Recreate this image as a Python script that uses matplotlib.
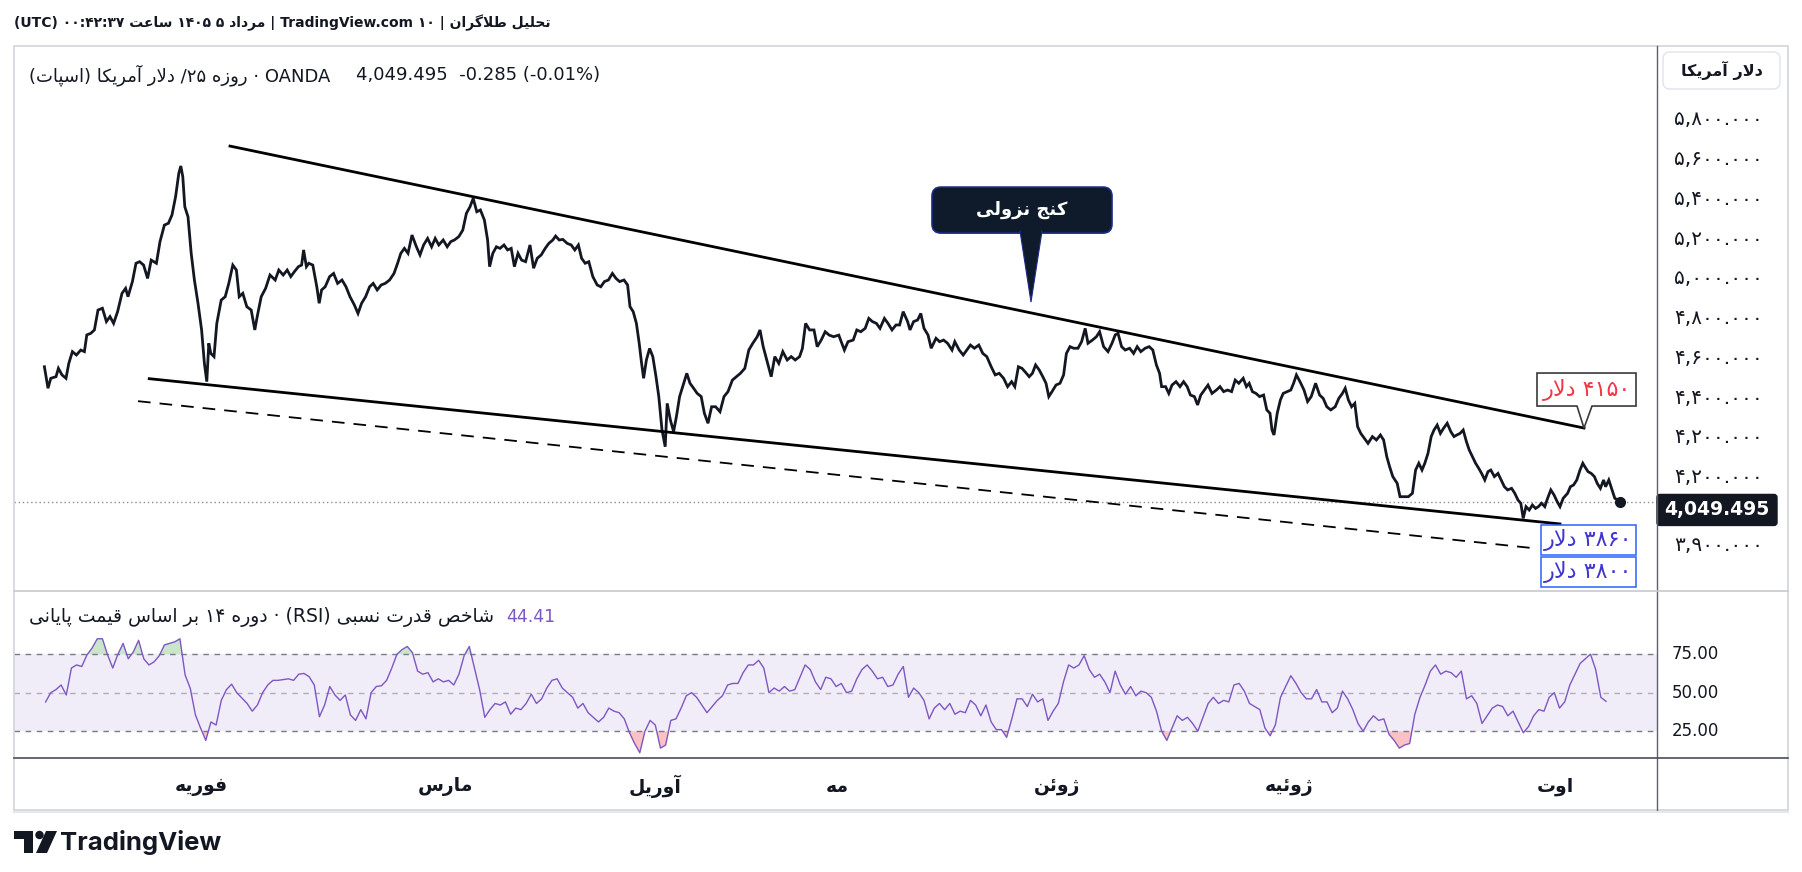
import re
import numpy as np
import matplotlib
matplotlib.use('Agg')
import matplotlib.pyplot as plt
from matplotlib.patches import FancyBboxPatch, Polygon, Rectangle, Circle
import matplotlib.transforms as mtrans

# ---------------- data ----------------
price_bar = [0.1, 1.0, 1.7, 3.0, 3.6, 4.5, 5.5, 6.2, 7.1, 8.1, 9.2, 10.1, 10.7, 11.7, 12.6, 13.5, 14.6, 15.6, 16.5, 17.4,
             18.4, 19.5, 20.4, 21.0, 22.1, 23.0, 23.9, 24.9, 25.9, 26.8, 28.1, 29.0, 30.1, 31.1, 32.0, 32.9, 33.7, 34.2, 34.7, 35.2,
             36.0, 36.8, 37.6, 38.5, 39.4, 40.1, 40.7, 41.2, 41.7, 42.5, 43.2, 44.3, 45.3, 46.2, 47.2, 48.1, 48.8, 49.7, 50.7, 51.8,
             52.7, 53.3, 54.3, 55.4, 56.5, 57.8, 58.7, 59.8, 60.8, 61.7, 62.6, 63.6, 64.4, 64.9, 65.6, 66.2, 67.2, 68.2, 68.8, 69.4,
             70.3, 71.4, 72.4, 73.4, 74.5, 75.5, 76.5, 77.6, 78.5, 79.4, 80.4, 81.4, 82.3, 83.3, 84.3, 85.3, 86.4, 87.5, 88.4, 89.2,
             90.1, 91.0, 92.0, 93.1, 94.0, 94.9, 95.9, 96.9, 97.8, 98.7, 99.8, 100.8, 101.7, 102.6, 103.7, 104.7, 105.6, 106.5, 107.3, 108.2,
             109.1, 110.1, 110.9, 111.4, 112.2, 113.1, 114.0, 115.0, 115.9, 116.8, 117.6, 118.5, 119.4, 120.4, 121.5, 122.4, 123.3, 124.3, 125.3, 126.2,
             127.2, 127.9, 128.8, 129.7, 130.8, 131.8, 132.7, 133.6, 134.4, 135.3, 136.2, 137.2, 138.3, 139.2, 140.1, 141.1, 142.1, 143.0, 143.9, 145.0,
             145.9, 146.5, 147.3, 148.1, 148.8, 149.4, 149.9, 150.6, 151.4, 152.2, 153.0, 153.7, 154.5, 155.3, 155.8, 156.6, 157.4, 158.1, 158.9, 159.8,
             160.7, 161.5, 162.4, 163.3, 164.3, 165.1, 166.0, 166.9, 167.9, 169.0, 170.0, 171.0, 172.1, 173.1, 174.1, 175.2, 176.2, 177.2, 178.3, 179.0,
             179.8, 180.9, 181.8, 182.7, 183.7, 184.7, 185.8, 186.8, 187.8, 188.9, 189.6, 190.4, 191.4, 192.5, 193.3, 194.3, 195.3, 196.3, 197.4, 198.7,
             199.3, 200.1, 201.0, 202.3, 203.2, 204.2, 205.3, 206.2, 207.1, 208.1, 209.0, 210.1, 211.0, 212.0, 213.0, 213.9, 214.8, 215.9, 216.5, 217.4,
             218.4, 219.2, 220.0, 221.0, 221.8, 223.0, 223.9, 224.9, 225.9, 227.0, 227.7, 228.8, 229.8, 230.7, 231.6, 232.6, 233.7, 234.7, 235.7, 236.8,
             237.8, 238.8, 239.9, 240.9, 241.9, 242.7, 243.6, 244.5, 245.6, 246.3, 247.1, 247.9, 248.8, 249.7, 250.5, 251.2, 252.0, 253.0, 254.0, 254.9,
             255.6, 256.5, 257.4, 258.5, 259.4, 260.3, 261.0, 262.1, 263.1, 263.9, 264.9, 266.0, 267.0, 267.8, 268.5, 269.4, 270.3, 271.4, 272.4, 273.3,
             274.2, 275.3, 276.3, 277.2, 278.1, 278.9, 279.4, 280.4, 281.2, 282.0, 283.0, 284.0, 284.9, 285.8, 286.6, 287.6, 288.4, 289.2, 290.1, 291.0,
             292.0, 293.1, 294.0, 294.9, 295.9, 296.9, 297.8, 298.7, 299.8, 300.6, 301.3, 302.1, 303.0, 303.9, 304.9, 305.7, 306.5, 307.0, 307.5, 308.3,
             309.1, 309.8, 310.8, 311.7, 312.4, 313.1, 314.0, 315.0, 315.9, 316.8, 317.9, 318.9, 319.8, 320.7, 321.7, 322.8, 323.7, 324.6, 325.3, 326.1,
             326.9, 327.7, 328.4, 329.2, 330.1, 331.0, 332.1, 333.1, 334.1, 334.9, 335.7, 336.4, 337.2, 338.3, 339.0, 340.1, 341.1, 342.1, 342.9, 343.7,
             344.5, 345.2, 346.0, 346.8, 347.5, 348.3, 349.1, 349.9, 350.8, 351.7, 352.5, 353.2, 354.0, 354.8, 355.6, 356.3, 357.1, 357.9, 358.7, 359.4,
             360.2, 361.0, 361.7, 362.6, 363.5, 364.3, 365.1, 365.9, 366.9, 367.7, 368.5, 369.2, 369.8, 370.5, 371.3, 372.1, 372.9, 373.6, 374.4, 375.2,
             375.9, 376.7, 377.5, 378.3, 379.0, 379.8, 380.9, 381.6, 382.4, 383.2, 384.0, 384.7, 385.2, 386.0, 386.8, 387.6, 388.3, 389.1, 389.9, 390.4,
             391.2, 392.0, 392.7, 393.5, 394.0]
price_close = [4558, 4450, 4500, 4508, 4550, 4517, 4500, 4575, 4634, 4617, 4642, 4634, 4718, 4726, 4743, 4843, 4852, 4785, 4810, 4776,
               4835, 4927, 4952, 4910, 4986, 5078, 5086, 5069, 5002, 5094, 5078, 5187, 5270, 5279, 5321, 5413, 5530, 5567, 5513, 5362,
               5312, 5128, 4994, 4877, 4743, 4575, 4483, 4676, 4625, 4609, 4776, 4893, 4910, 4977, 5069, 5044, 4910, 4927, 4860, 4843,
               4743, 4810, 4910, 4952, 5019, 4994, 5044, 5019, 5044, 5011, 5036, 5061, 5069, 5145, 5061, 5078, 5069, 4960, 4877, 4944,
               4960, 5011, 5027, 4977, 4994, 4960, 4910, 4868, 4826, 4877, 4910, 4960, 4977, 4944, 4969, 4977, 4994, 5027, 5078, 5128,
               5153, 5128, 5220, 5161, 5120, 5170, 5203, 5161, 5203, 5170, 5195, 5161, 5187, 5195, 5212, 5245, 5329, 5362, 5404, 5337,
               5346, 5295, 5195, 5061, 5128, 5161, 5153, 5170, 5145, 5153, 5061, 5128, 5094, 5086, 5170, 5053, 5103, 5120, 5153, 5178,
               5195, 5215, 5195, 5198, 5178, 5170, 5145, 5170, 5103, 5078, 5086, 5011, 4969, 4960, 4986, 4994, 5027, 5002, 4986, 4994,
               4969, 4860, 4835, 4776, 4676, 4575, 4500, 4592, 4650, 4609, 4508, 4408, 4240, 4156, 4374, 4290, 4232, 4307, 4408, 4466,
               4525, 4475, 4450, 4424, 4408, 4324, 4274, 4357, 4357, 4332, 4408, 4433, 4491, 4508, 4525, 4550, 4642, 4676, 4709, 4743,
               4659, 4575, 4508, 4609, 4575, 4634, 4592, 4609, 4592, 4609, 4650, 4776, 4743, 4743, 4659, 4692, 4734, 4717, 4709, 4717,
               4684, 4642, 4684, 4692, 4743, 4734, 4751, 4801, 4785, 4776, 4751, 4801, 4776, 4743, 4768, 4768, 4835, 4785, 4743, 4785,
               4793, 4826, 4751, 4718, 4651, 4701, 4684, 4692, 4676, 4642, 4684, 4642, 4617, 4642, 4667, 4651, 4667, 4625, 4609, 4558,
               4517, 4525, 4500, 4458, 4483, 4458, 4558, 4550, 4525, 4508, 4525, 4567, 4542, 4508, 4475, 4408, 4433, 4466, 4475, 4517,
               4625, 4659, 4651, 4651, 4684, 4751, 4676, 4692, 4709, 4734, 4659, 4634, 4676, 4718, 4726, 4659, 4642, 4651, 4625, 4659,
               4634, 4651, 4659, 4642, 4567, 4525, 4458, 4458, 4424, 4466, 4483, 4458, 4483, 4458, 4416, 4408, 4366, 4416, 4441, 4466,
               4424, 4441, 4458, 4433, 4441, 4433, 4491, 4475, 4500, 4458, 4475, 4433, 4424, 4408, 4416, 4341, 4324, 4240, 4215, 4324,
               4391, 4424, 4433, 4441, 4475, 4517, 4483, 4441, 4383, 4408, 4475, 4416, 4399, 4357, 4341, 4357, 4399, 4424, 4450, 4391,
               4357, 4374, 4257, 4223, 4198, 4173, 4207, 4190, 4215, 4190, 4106, 4056, 4006, 3972, 3905, 3905, 3905, 3922, 4039, 4073,
               4039, 4073, 4123, 4207, 4240, 4265, 4223, 4249, 4274, 4232, 4207, 4215, 4223, 4240, 4182, 4140, 4106, 4073, 4047, 4022,
               3989, 4031, 4039, 4006, 4022, 3989, 3955, 3939, 3947, 3922, 3888, 3872, 3796, 3855, 3838, 3863, 3846, 3855, 3872, 3855,
               3897, 3939, 3914, 3880, 3855, 3897, 3922, 3955, 3964, 3989, 4039, 4073, 4056, 4031, 4022, 4006, 3972, 3947, 3989, 3955,
               3989, 3939, 3897, 3888, 3876]

rsi_values = [44, 50, 52, 55, 48.5, 66, 68, 67, 74.5, 79, 85, 85, 74.5, 66, 75, 82, 72, 76.6, 84, 72,
              68, 70, 74, 81, 82, 83, 85, 61.5, 52.8, 35.5, 27, 19, 31, 29, 45, 52, 55.5, 50, 46.5, 43,
              38, 42, 50, 55, 58, 58, 58.5, 59, 58, 62, 62.5, 60.4, 55, 34.4, 42, 54, 48.5, 45, 48.5, 35.5,
              32, 39, 33, 50, 54, 54.5, 58, 66, 75, 78, 80, 76, 64, 62, 63, 57, 59, 57, 58, 55,
              62, 74, 80, 66, 52, 34, 39, 43, 42, 44, 36, 40, 39, 43, 49, 43, 46, 53, 58, 59,
              53, 50, 47, 40, 43, 37, 34, 31, 34, 40, 38, 37, 33, 24, 17, 11, 25, 32, 29, 14,
              16, 32, 33, 40, 48, 50, 47, 42, 37, 41, 45, 48, 55, 56, 56, 63, 68, 68, 71, 66,
              50, 53, 51, 54, 51, 52, 60, 68, 65, 57, 52, 60, 59, 54, 56, 50, 51, 59, 65, 68,
              64, 59, 60, 54, 55, 62, 67, 47, 53, 50, 45, 33, 40, 43, 39, 43, 36, 38, 37, 45,
              42, 35, 42, 31, 26, 26, 21, 33, 46, 46, 41, 49, 44, 46, 32, 38, 43, 57, 68, 66,
              68, 74, 65, 60, 62, 57, 50, 64, 55, 49, 54, 48, 51, 50, 47, 38, 25, 19, 27, 35,
              32, 34, 30, 25, 34, 43, 47, 43, 45, 44, 55, 56, 51, 43, 41, 39, 27, 22, 29, 47,
              54, 61, 56, 50, 46, 46, 52, 44, 44, 37, 40, 51, 46, 39, 30, 25, 31, 35, 32, 33,
              23, 19, 14, 16, 17, 36, 47, 55, 64, 68, 62, 64, 63, 60, 64, 46, 48, 43, 30, 35,
              40, 42, 41, 35, 38, 31, 24, 28, 35, 39, 38, 47, 50, 40, 44, 55, 62, 69, 72, 75,
              65, 47, 44.41]
rsi_first_bar, rsi_last_bar = 0.4, 390.5

month_pos = [39.25, 100.25, 152.75, 198.25, 253.25, 311.25, 377.75]
month_names = ['فوریه', 'مارس', 'آوریل', 'مه', 'ژوئن', 'ژوئیه', 'اوت']

ytick_pos = [5800, 5600, 5400, 5200, 5000, 4800, 4600, 4400, 4200, 4000, 3660]
ytick_labels = ['۵,۸۰۰.۰۰۰', '۵,۶۰۰.۰۰۰', '۵,۴۰۰.۰۰۰', '۵,۲۰۰.۰۰۰', '۵,۰۰۰.۰۰۰', '۴,۸۰۰.۰۰۰',
                '۴,۶۰۰.۰۰۰', '۴,۴۰۰.۰۰۰', '۴,۲۰۰.۰۰۰', '۴,۲۰۰.۰۰۰', '۳,۹۰۰.۰۰۰']
rsi_ticks = [75, 50, 25]
rsi_tick_labels = ['75.00', '50.00', '25.00']

wedge_upper_bar = [46.5, 385.0]
wedge_upper_val = [5667, 4250]
wedge_lower_bar = [26.3, 379.0]
wedge_lower_val = [4498, 3768]
support_bar = [23.5, 371.5]
support_val = [4385, 3648]
wedge_label_anchor = (246.75, 4883)

header_text = 'تحلیل طلاگران | ۱۰ TradingView.com | مرداد ۵ ۱۴۰۵ ساعت ۰۰:۴۲:۳۷ (UTC)'
title_text = 'OANDA · روزه ۲۵/ دلار آمریکا (اسپات)'
title_values = '4,049.495  -0.285 (-0.01%)'
last_price_label = '4,049.495'
rsi_title_text = 'شاخص قدرت نسبی (RSI) · دوره ۱۴ بر اساس قیمت پایانی'
rsi_last_label = '44.41'
axis_unit_text = 'دلار آمریکا'
wedge_text = 'کنج نزولی'
target_text = '۴۱۵۰ دلار'
support1_text = '۳۸۶۰ دلار'
support2_text = '۳۸۰۰ دلار'

# ---------------- Persian shaping (no external libs) ----------------
def _dual(b):
    return (b, b + 1, b + 2, b + 3)

def _right(b):
    return (b, b + 1, None, None)

FORMS = {
    '\u0627': _right(0xFE8D), '\u0622': _right(0xFE81), '\u0628': _dual(0xFE8F), '\u067E': _dual(0xFB56),
    '\u062A': _dual(0xFE95), '\u062B': _dual(0xFE99), '\u062C': _dual(0xFE9D), '\u0686': _dual(0xFB7A),
    '\u062D': _dual(0xFEA1), '\u062E': _dual(0xFEA5), '\u062F': _right(0xFEA9), '\u0630': _right(0xFEAB),
    '\u0631': _right(0xFEAD), '\u0632': _right(0xFEAF), '\u0698': _right(0xFB8A), '\u0633': _dual(0xFEB1),
    '\u0634': _dual(0xFEB5), '\u0635': _dual(0xFEB9), '\u0636': _dual(0xFEBD), '\u0637': _dual(0xFEC1),
    '\u0638': _dual(0xFEC5), '\u0639': _dual(0xFEC9), '\u063A': _dual(0xFECD), '\u0641': _dual(0xFED1),
    '\u0642': _dual(0xFED5), '\u06A9': _dual(0xFB8E), '\u0643': _dual(0xFED9), '\u06AF': _dual(0xFB92),
    '\u0644': _dual(0xFEDD), '\u0645': _dual(0xFEE1), '\u0646': _dual(0xFEE5), '\u0648': _right(0xFEED),
    '\u0647': _dual(0xFEE9), '\u06CC': _dual(0xFBFC), '\u064A': _dual(0xFEF1), '\u0626': _dual(0xFE89),
}

def _shape(s):
    out = []
    i, n = 0, len(s)
    joins_next = lambda c: c in FORMS and FORMS[c][2] is not None
    while i < n:
        c = s[i]
        if c not in FORMS:
            out.append(c)
            i += 1
            continue
        prev = i > 0 and joins_next(s[i - 1])
        if c == '\u0644' and i + 1 < n and s[i + 1] in ('\u0627', '\u0622'):
            iso, fin = (0xFEFB, 0xFEFC) if s[i + 1] == '\u0627' else (0xFEF5, 0xFEF6)
            out.append(chr(fin if prev else iso))
            i += 2
            continue
        nxt = joins_next(c) and i + 1 < n and s[i + 1] in FORMS
        f = FORMS[c]
        g = f[3] if (prev and nxt) else f[1] if prev else f[2] if nxt else f[0]
        out.append(chr(g))
        i += 1
    return ''.join(out)

_LTR = re.compile(r'[0-9A-Za-z\u06F0-\u06F9](?:[0-9A-Za-z\u06F0-\u06F9.,:%]*[0-9A-Za-z\u06F0-\u06F9])?')

def fa(s):
    r = _shape(s)[::-1]
    r = _LTR.sub(lambda m: m.group(0)[::-1], r)
    return r.translate(str.maketrans('()', ')('))

# ---------------- figure ----------------
plt.rcParams['font.family'] = ['DejaVu Sans']
W, H = 1802, 872
fig = plt.figure(figsize=(W / 100, H / 100), dpi=100)
fig.patch.set_facecolor('white')

def fx(x):
    return x / W

def fy(y):
    return 1 - y / H

INK = '#131722'
ax = fig.add_axes([fx(14), fy(591), fx(1657) - fx(14), fy(46) - fy(591)])
rax = fig.add_axes([fx(14), fy(758), fx(1657) - fx(14), fy(591) - fy(758)])
ov = fig.add_axes([0, 0, 1, 1], zorder=10)
ov.set_xlim(0, W)
ov.set_ylim(H, 0)
ov.axis('off')
ov.patch.set_alpha(0)

XL = (-7.5, 403.25)
for a in (ax, rax):
    a.set_xlim(*XL)
    for sp in a.spines.values():
        sp.set_visible(False)
    a.set_facecolor('none')
ax.set_ylim(3431, 6170)
rax.set_ylim(7.6, 116)

# price + drawings
ax.plot(price_bar, price_close, color=INK, lw=2.0, zorder=3, solid_joinstyle='miter')
ax.plot(price_bar[-1], price_close[-1], 'o', ms=7, color=INK, zorder=4)
ax.axhline(price_close[-1], color='#8a8d96', lw=1, ls=(0, (1, 2)), zorder=1)
ax.plot(wedge_upper_bar, wedge_upper_val, color='black', lw=2.0, zorder=4)
ax.plot(wedge_lower_bar, wedge_lower_val, color='black', lw=2.0, zorder=4)
ax.plot(support_bar, support_val, color='black', lw=1.3, ls=(0, (7, 5)), zorder=4)
ax.set_xticks([])
ax.set_yticks([])

# RSI
rsi_bar = np.linspace(rsi_first_bar, rsi_last_bar, len(rsi_values))
rv = np.array(rsi_values, dtype=float)
rax.axhspan(25, 75, color='#7e57c2', alpha=0.11, lw=0)
for lvl, al in ((75, 1.0), (50, 0.55), (25, 1.0)):
    rax.axhline(lvl, color='#787b86', lw=1, ls=(0, (4, 4)), alpha=al)
rax.fill_between(rsi_bar, rv, 75, where=rv > 75, interpolate=True, color='#4caf50', alpha=0.3, lw=0)
rax.fill_between(rsi_bar, rv, 25, where=rv < 25, interpolate=True, color='#f23645', alpha=0.3, lw=0)
rax.plot(rsi_bar, rv, color='#7e57c2', lw=1.0)
rax.set_xticks([])
rax.set_yticks([])

# axis labels (right scale and time scale)
bt_main = mtrans.blended_transform_factory(ov.transData, ax.transData)
for p, lab in zip(ytick_pos, ytick_labels):
    ax.text(1674, p, lab, transform=bt_main, ha='left', va='center', fontsize=14.5, color=INK, clip_on=False)
bt_rsi = mtrans.blended_transform_factory(ov.transData, rax.transData)
for p, lab in zip(rsi_ticks, rsi_tick_labels):
    rax.text(1672, p, lab, transform=bt_rsi, ha='left', va='center', fontsize=12, color=INK, clip_on=False)
bt_time = mtrans.blended_transform_factory(rax.transData, ov.transData)
for p, lab in zip(month_pos, month_names):
    rax.text(p, 786, fa(lab), transform=bt_time, ha='center', va='center', fontsize=13.5,
             fontweight='bold', color=INK, clip_on=False)

def to_px(a, x, y):
    dx, dy = a.transData.transform((x, y))
    return dx, H - dy

# frame
ov.add_patch(Rectangle((14, 46), 1774, 764, fill=False, ec='#d1d4dc', lw=1.2))
ov.plot([1657, 1657], [46, 810], color='#5d606b', lw=1)
ov.plot([14, 1788], [591, 591], color='#c8cad0', lw=1.2)
ov.plot([14, 1788], [758, 758], color='#4a4d57', lw=1.2)
ov.plot([14, 1788], [811.5, 811.5], color='#e6e7ea', lw=1.5)

# header & legends
ov.text(14, 23, fa(header_text), ha='left', va='center', fontsize=10, fontweight='bold', color=INK)
ov.text(29, 75, fa(title_text), ha='left', va='center', fontsize=13, color=INK)
ov.text(356, 75, title_values, ha='left', va='center', fontsize=13, color=INK)
ov.text(29, 617, fa(rsi_title_text), ha='left', va='center', fontsize=13.5, color=INK)
ov.text(506, 617, rsi_last_label, ha='left', va='center', fontsize=12.5, color='#7e57c2')

# unit box at top of price scale
ov.add_patch(FancyBboxPatch((1663, 52), 117, 37, boxstyle='round,pad=0,rounding_size=7',
                            fc='white', ec='#e0e3eb', lw=1))
ov.text(1721.5, 70.5, fa(axis_unit_text), ha='center', va='center', fontsize=11.5, fontweight='bold', color=INK)

# last price label
lx, ly = to_px(ax, price_bar[-1], price_close[-1])
ov.add_patch(FancyBboxPatch((1657, ly - 8), 120, 31, boxstyle='round,pad=0,rounding_size=3',
                            fc=INK, ec=INK, lw=1))
ov.text(1717, ly + 7.5, last_price_label, ha='center', va='center', fontsize=13.5,
        fontweight='bold', color='white')

# callout: wedge name
tx, ty = to_px(ax, *wedge_label_anchor)
ov.add_patch(FancyBboxPatch((tx - 99, ty - 115), 180, 46, boxstyle='round,pad=0,rounding_size=9',
                            fc='#0f1b2b', ec='#1c2a8a', lw=1.2))
ov.add_patch(Polygon([(tx - 11, ty - 71), (tx + 11, ty - 71), (tx, ty)], closed=True, fc='#0f1b2b', ec='#1c2a8a', lw=0.8))
ov.add_patch(Rectangle((tx - 10, ty - 73), 20, 4, fc='#0f1b2b', ec='none'))
ov.text(tx - 9, ty - 92, fa(wedge_text), ha='center', va='center', fontsize=13, fontweight='bold', color='white')

# callout: target
px_, py_ = to_px(ax, wedge_upper_bar[-1], wedge_upper_val[-1])
x0, x1, y0, y1 = px_ - 47, px_ + 52, py_ - 55, py_ - 22
ov.add_patch(Polygon([(x0, y0), (x1, y0), (x1, y1), (px_ + 8, y1), (px_, py_), (px_ - 7, y1), (x0, y1)],
                     closed=True, fc='white', ec='#3a3a3a', lw=1.2))
ov.text((x0 + x1) / 2, (y0 + y1) / 2, fa(target_text), ha='center', va='center', fontsize=16, color='#f23645')

# support labels
sx, sy = to_px(ax, wedge_lower_bar[-1], wedge_lower_val[-1])
for k, txt in enumerate((support1_text, support2_text)):
    by = sy + 1 + k * 32
    ov.add_patch(Rectangle((sx - 19, by), 95, 30, fc='white', ec='#2962ff', lw=1.1))
    ov.text(sx + 28.5, by + 15, fa(txt), ha='center', va='center', fontsize=16, color='#3f35d0')

# TradingView logo
ov.add_patch(Polygon([(14, 831), (33, 831), (33, 853), (24, 853), (24, 839), (14, 839)], closed=True, fc=INK, ec='none'))
ov.add_patch(Circle((39.5, 835), 4.2, fc=INK, ec='none'))
ov.add_patch(Polygon([(46, 831), (57, 831), (47, 853), (36, 853)], closed=True, fc=INK, ec='none'))
ov.text(60, 842, 'TradingView', ha='left', va='center', fontsize=18.5, fontweight='bold', family='Inter', color=INK)

fig.savefig('out.png', dpi=100, facecolor='white')
